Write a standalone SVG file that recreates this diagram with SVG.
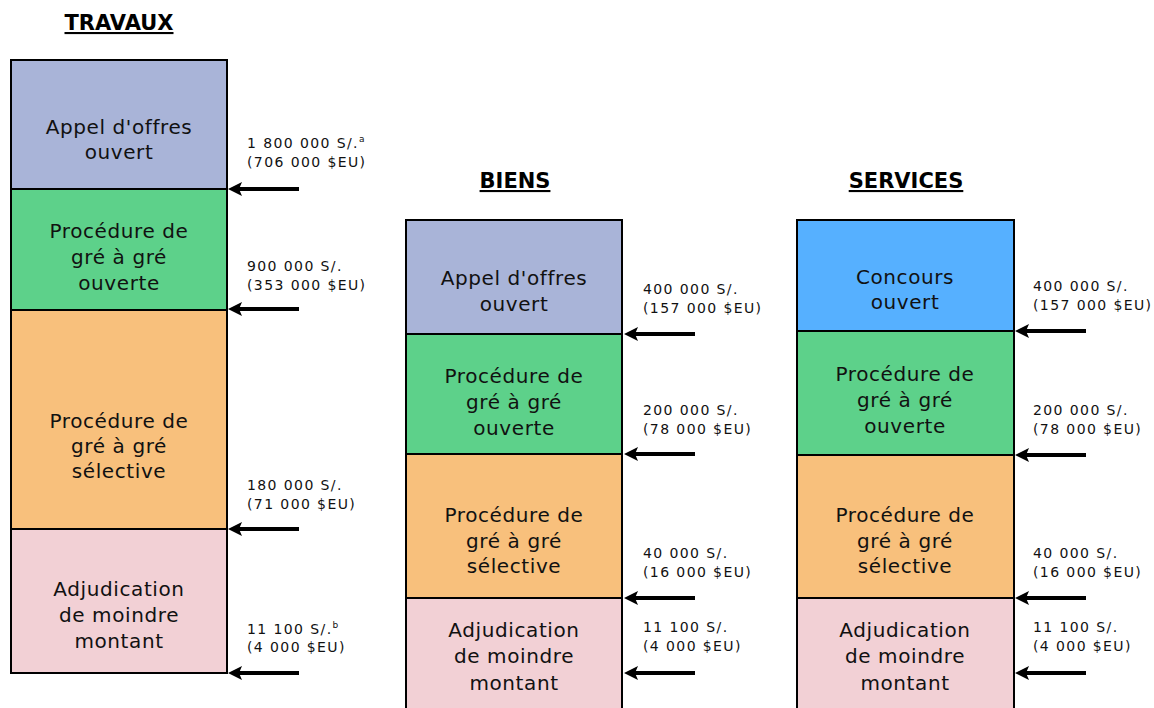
<svg xmlns="http://www.w3.org/2000/svg" width="1154" height="708" viewBox="0 0 1154 708">
<style>
.box{stroke:#000;stroke-width:2}
.c1{fill:#A9B4D8}.c2{fill:#5DD18A}.c3{fill:#F8C07C}.c4{fill:#F2D0D5}.c5{fill:#56B0FF}
.bt{font-family:"DejaVu Sans",Verdana,sans-serif;font-size:20px;letter-spacing:0.6px;fill:#111;text-anchor:middle}
.lb{font-family:"DejaVu Sans",Verdana,sans-serif;font-size:14px;letter-spacing:1.4px;fill:#111}
.sup{font-size:9px;letter-spacing:0}
.ti{font-family:"DejaVu Sans",Verdana,sans-serif;font-size:21px;font-weight:bold;fill:#000;text-anchor:middle;text-decoration:underline}
.ar{stroke:#000;stroke-width:4;fill:none}
.hd{fill:#000}
</style>
<defs>
<path id="head" d="M0,0 L14,-7 L11,0 L14,7 Z"/>
</defs>
<rect width="1154" height="708" fill="#fff"/>
<text class="ti" x="119" y="30">TRAVAUX</text>
<text class="ti" x="515" y="188">BIENS</text>
<text class="ti" x="906" y="188">SERVICES</text>

<g id="travaux-appel">
<rect class="box c1" x="11" y="60" width="216" height="129"/>
<text class="bt" x="119" y="134">Appel d'offres</text>
<text class="bt" x="119" y="159">ouvert</text>
</g>
<g id="travaux-gre-ouverte">
<rect class="box c2" x="11" y="189" width="216" height="121"/>
<text class="bt" x="119" y="238">Procédure de</text>
<text class="bt" x="119" y="264">gré à gré</text>
<text class="bt" x="119" y="290">ouverte</text>
</g>
<g id="travaux-gre-selective">
<rect class="box c3" x="11" y="310" width="216" height="219"/>
<text class="bt" x="119" y="428">Procédure de</text>
<text class="bt" x="119" y="453">gré à gré</text>
<text class="bt" x="119" y="478">sélective</text>
</g>
<g id="travaux-adjudication">
<rect class="box c4" x="11" y="529" width="216" height="144"/>
<text class="bt" x="119" y="596">Adjudication</text>
<text class="bt" x="119" y="622">de moindre</text>
<text class="bt" x="119" y="648">montant</text>
</g>

<g id="biens-appel">
<rect class="box c1" x="406" y="220" width="216" height="114"/>
<text class="bt" x="514" y="285">Appel d'offres</text>
<text class="bt" x="514" y="311">ouvert</text>
</g>
<g id="biens-gre-ouverte">
<rect class="box c2" x="406" y="334" width="216" height="120"/>
<text class="bt" x="514" y="383">Procédure de</text>
<text class="bt" x="514" y="409">gré à gré</text>
<text class="bt" x="514" y="435">ouverte</text>
</g>
<g id="biens-gre-selective">
<rect class="box c3" x="406" y="454" width="216" height="144"/>
<text class="bt" x="514" y="522">Procédure de</text>
<text class="bt" x="514" y="548">gré à gré</text>
<text class="bt" x="514" y="573">sélective</text>
</g>
<g id="biens-adjudication">
<rect class="box c4" x="406" y="598" width="216" height="120"/>
<text class="bt" x="514" y="637">Adjudication</text>
<text class="bt" x="514" y="663">de moindre</text>
<text class="bt" x="514" y="690">montant</text>
</g>

<g id="services-concours">
<rect class="box c5" x="797" y="220" width="217" height="111"/>
<text class="bt" x="905" y="284">Concours</text>
<text class="bt" x="905" y="309">ouvert</text>
</g>
<g id="services-gre-ouverte">
<rect class="box c2" x="797" y="331" width="217" height="124"/>
<text class="bt" x="905" y="381">Procédure de</text>
<text class="bt" x="905" y="407">gré à gré</text>
<text class="bt" x="905" y="433">ouverte</text>
</g>
<g id="services-gre-selective">
<rect class="box c3" x="797" y="455" width="217" height="143"/>
<text class="bt" x="905" y="522">Procédure de</text>
<text class="bt" x="905" y="548">gré à gré</text>
<text class="bt" x="905" y="573">sélective</text>
</g>
<g id="services-adjudication">
<rect class="box c4" x="797" y="598" width="217" height="120"/>
<text class="bt" x="905" y="637">Adjudication</text>
<text class="bt" x="905" y="663">de moindre</text>
<text class="bt" x="905" y="690">montant</text>
</g>

<g id="labels">
<text class="lb" x="247" y="148">1 800 000 S/.<tspan class="sup" dy="-6">a</tspan></text>
<text class="lb" x="247" y="167">(706 000 $EU)</text>
<text class="lb" x="247" y="271">900 000 S/.</text>
<text class="lb" x="247" y="290">(353 000 $EU)</text>
<text class="lb" x="247" y="490">180 000 S/.</text>
<text class="lb" x="247" y="509">(71 000 $EU)</text>
<text class="lb" x="247" y="634">11 100 S/.<tspan class="sup" dy="-6">b</tspan></text>
<text class="lb" x="247" y="652">(4 000 $EU)</text>

<text class="lb" x="643" y="294">400 000 S/.</text>
<text class="lb" x="643" y="313">(157 000 $EU)</text>
<text class="lb" x="643" y="415">200 000 S/.</text>
<text class="lb" x="643" y="434">(78 000 $EU)</text>
<text class="lb" x="643" y="558">40 000 S/.</text>
<text class="lb" x="643" y="577">(16 000 $EU)</text>
<text class="lb" x="643" y="632">11 100 S/.</text>
<text class="lb" x="643" y="651">(4 000 $EU)</text>

<text class="lb" x="1033" y="291">400 000 S/.</text>
<text class="lb" x="1033" y="310">(157 000 $EU)</text>
<text class="lb" x="1033" y="415">200 000 S/.</text>
<text class="lb" x="1033" y="434">(78 000 $EU)</text>
<text class="lb" x="1033" y="558">40 000 S/.</text>
<text class="lb" x="1033" y="577">(16 000 $EU)</text>
<text class="lb" x="1033" y="632">11 100 S/.</text>
<text class="lb" x="1033" y="651">(4 000 $EU)</text>
</g>

<g id="connectors">
<path class="ar" d="M299,189 H238"/><use href="#head" class="hd" x="228" y="189"/>
<path class="ar" d="M299,309 H238"/><use href="#head" class="hd" x="228" y="309"/>
<path class="ar" d="M299,529 H238"/><use href="#head" class="hd" x="228" y="529"/>
<path class="ar" d="M299,673 H238"/><use href="#head" class="hd" x="228" y="673"/>
<path class="ar" d="M695,334 H634"/><use href="#head" class="hd" x="624" y="334"/>
<path class="ar" d="M695,454 H634"/><use href="#head" class="hd" x="624" y="454"/>
<path class="ar" d="M695,598 H634"/><use href="#head" class="hd" x="624" y="598"/>
<path class="ar" d="M695,673 H634"/><use href="#head" class="hd" x="624" y="673"/>
<path class="ar" d="M1086,331 H1025"/><use href="#head" class="hd" x="1015" y="331"/>
<path class="ar" d="M1086,455 H1025"/><use href="#head" class="hd" x="1015" y="455"/>
<path class="ar" d="M1086,598 H1025"/><use href="#head" class="hd" x="1015" y="598"/>
<path class="ar" d="M1086,673 H1025"/><use href="#head" class="hd" x="1015" y="673"/>
</g>
</svg>
